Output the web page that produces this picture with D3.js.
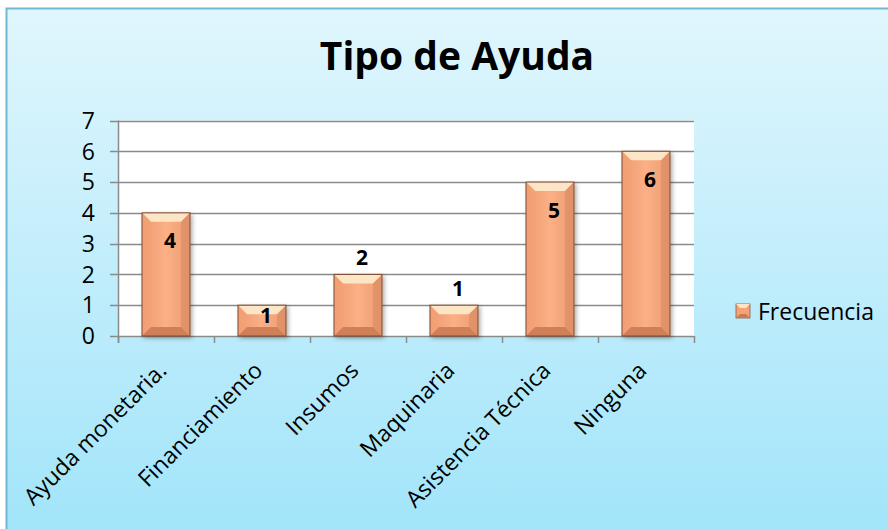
<!DOCTYPE html>
<html><head><meta charset="utf-8">
<script src="https://cdn.jsdelivr.net/npm/d3@7"></script>
<style>body{margin:0;background:#fff;}svg{display:block;font-family:"Open Sans",Lato,sans-serif;}</style>
</head><body>
<svg id="c" width="888" height="529"></svg>
<script>
const categories = ["Ayuda monetaria.","Financiamiento","Insumos","Maquinaria","Asistencia Técnica","Ninguna"];
const values = [4,1,2,1,5,6];
const labelPlacement = ["inside","inside","outside","outside","inside","inside"];
const yTicks = [0,1,2,3,4,5,6,7];
const seriesName = "Frecuencia";
const title = "Tipo de Ayuda";

const svg = d3.select("#c");
const defs = svg.append("defs");
const bg = defs.append("linearGradient").attr("id","bg").attr("x1",0).attr("y1",0).attr("x2",0).attr("y2",1);
bg.append("stop").attr("offset","0").attr("stop-color","#e0f6fd");
bg.append("stop").attr("offset","1").attr("stop-color","#a0e4fa");
const bar = defs.append("linearGradient").attr("id","barg").attr("x1",0).attr("y1",0).attr("x2",1).attr("y2",0);
bar.append("stop").attr("offset","0").attr("stop-color","#ee9a70");
bar.append("stop").attr("offset","0.5").attr("stop-color","#fbb085");
bar.append("stop").attr("offset","1").attr("stop-color","#ee9a70");
const f = defs.append("filter").attr("id","sh").attr("x","-20%").attr("y","-20%").attr("width","140%").attr("height","140%");
f.append("feDropShadow").attr("dx",2).attr("dy",2).attr("stdDeviation",2).attr("flood-color","#000").attr("flood-opacity",0.3);

svg.append("rect").attr("x",6.5).attr("y",8.5).attr("width",900).attr("height",540)
  .attr("fill","url(#bg)").attr("stroke","#6fb8d3").attr("stroke-width",2);

svg.append("text").attr("x",457).attr("y",70).attr("text-anchor","middle")
  .attr("font-size",39).attr("font-weight","bold").attr("fill","#000").text(title);

const m = {l:118, r:694, t:120.5, b:336};
const x = d3.scaleBand().domain(categories).range([m.l,m.r]).paddingInner(0.5).paddingOuter(0.25);
const y = d3.scaleLinear().domain([0,7]).range([m.b,m.t]);

svg.append("rect").attr("x",m.l).attr("y",m.t).attr("width",m.r-m.l).attr("height",m.b-m.t).attr("fill","#fff");

const grid = svg.append("g");
grid.selectAll("line").data(yTicks).join("line")
  .attr("x1",m.l-8).attr("x2",m.r).attr("y1",d=>Math.round(y(d))+0.5).attr("y2",d=>Math.round(y(d))+0.5)
  .attr("stroke","#8a8a8a").attr("stroke-width",1.5);
svg.append("line").attr("x1",m.l+0.5).attr("x2",m.l+0.5).attr("y1",m.t).attr("y2",m.b+7).attr("stroke","#8a8a8a").attr("stroke-width",1.5);
const step = (m.r-m.l)/categories.length;
svg.append("g").selectAll("line").data(d3.range(categories.length+1)).join("line")
  .attr("x1",i=>m.l+i*step+0.5).attr("x2",i=>m.l+i*step+0.5).attr("y1",m.b).attr("y2",m.b+7)
  .attr("stroke","#8a8a8a").attr("stroke-width",1.5);

svg.append("g").selectAll("text").data(yTicks).join("text")
  .attr("x",m.l-23).attr("y",d=>y(d)).attr("dy","0.36em").attr("text-anchor","end")
  .attr("font-size",23).attr("fill","#000").text(d=>d);

// bars with bevel
const bw = x.bandwidth();
const bevel = 9;
const bars = svg.append("g").selectAll("g").data(values).join("g").attr("filter","url(#sh)");
bars.each(function(v,i){
  const g = d3.select(this);
  const x0 = x(categories[i]), x1 = x0+bw, y0 = y(v), y1 = y(0);
  const e = Math.min(bevel, (y1-y0)/2);
  g.append("rect").attr("x",x0).attr("y",y0).attr("width",bw).attr("height",y1-y0).attr("fill","url(#barg)");
  g.append("path").attr("d",`M${x0},${y0}L${x1},${y0}L${x1-e},${y0+e}L${x0+e},${y0+e}Z`).attr("fill","#fde6c6");
  g.append("path").attr("d",`M${x0},${y0}L${x0+e},${y0+e}L${x0+e},${y1-e}L${x0},${y1}Z`).attr("fill","#f3a274").attr("opacity",0.6);
  g.append("path").attr("d",`M${x1},${y0}L${x1-e},${y0+e}L${x1-e},${y1-e}L${x1},${y1}Z`).attr("fill","#d98a62").attr("opacity",0.6);
  g.append("path").attr("d",`M${x0},${y1}L${x0+e},${y1-e}L${x1-e},${y1-e}L${x1},${y1}Z`).attr("fill","#cf8058");
  g.append("rect").attr("x",x0).attr("y",y0).attr("width",bw).attr("height",y1-y0).attr("fill","none").attr("stroke","#7a4a30").attr("stroke-width",1);
});

svg.append("g").selectAll("text").data(values).join("text")
  .attr("x",(d,i)=>x(categories[i])+bw/2+4)
  .attr("y",(d,i)=> {
    const h = y(0)-y(d);
    return labelPlacement[i]==="inside" ? y(d)+Math.min(28, h/2-5) : y(d)-17;
  })
  .attr("dy","0.36em").attr("text-anchor","middle").attr("font-size",21).attr("font-weight","bold").text(d=>d);

svg.append("g").selectAll("text").data(categories).join("text")
  .attr("transform",(d)=>`translate(${x(d)+bw/2+2},${m.b+36}) rotate(-45)`)
  .attr("text-anchor","end").attr("font-size",23).attr("fill","#000").text(d=>d);

// legend
const lg = svg.append("g").attr("transform","translate(736,304)");
lg.append("rect").attr("width",14).attr("height",14).attr("fill","#f4a277").attr("stroke","#8a5a3a").attr("stroke-width",0.8);
lg.append("path").attr("d","M0,0L14,0L10,4L4,4Z").attr("fill","#fde4c4");
lg.append("path").attr("d","M0,14L14,14L10,10L4,10Z").attr("fill","#c97a55");
lg.append("text").attr("x",22).attr("y",7.5).attr("dy","0.36em").attr("font-size",23).text(seriesName);
</script>
</body></html>
